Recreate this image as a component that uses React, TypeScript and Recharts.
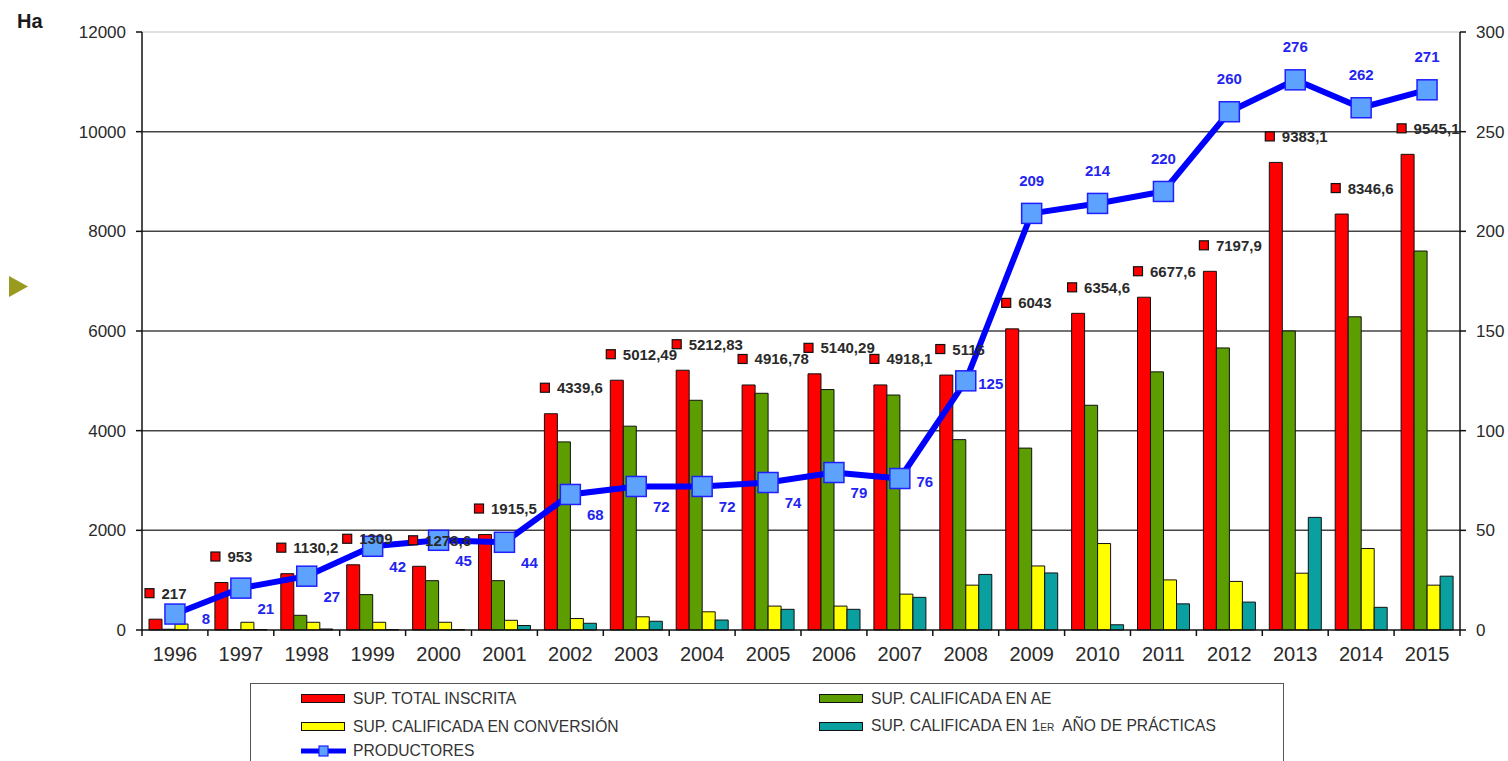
import React from 'react'
import { ComposedChart, Bar, Line, XAxis, YAxis, CartesianGrid, ReferenceLine, LabelList } from 'recharts'

const years = ['1996', '1997', '1998', '1999', '2000', '2001', '2002', '2003', '2004', '2005', '2006', '2007', '2008', '2009', '2010', '2011', '2012', '2013', '2014', '2015']
const totalInscrita = [217, 953, 1130.2, 1309, 1278.6, 1915.5, 4339.6, 5012.49, 5212.83, 4916.78, 5140.29, 4918.1, 5116, 6043, 6354.6, 6677.6, 7197.9, 9383.1, 8346.6, 9545.1]
const calificadaAE = [15, 10, 295, 710, 990, 990, 3775, 4090, 4610, 4750, 4825, 4715, 3820, 3650, 4510, 5180, 5660, 6000, 6285, 7605]
const enConversion = [120, 155, 155, 155, 155, 195, 230, 265, 365, 480, 480, 720, 900, 1285, 1735, 1005, 975, 1140, 1635, 900]
const primerAno = [0, 10, 20, 10, 10, 90, 135, 175, 200, 415, 415, 655, 1115, 1145, 105, 525, 560, 2260, 455, 1080]
const productores = [8, 21, 27, 42, 45, 44, 68, 72, 72, 74, 79, 76, 125, 209, 214, 220, 260, 276, 262, 271]

const leftTicks = [0, 2000, 4000, 6000, 8000, 10000, 12000]
const rightTicks = [0, 50, 100, 150, 200, 250, 300]

const data = years.map((year, i) => ({
  year,
  total: totalInscrita[i],
  ae: calificadaAE[i],
  conv: enConversion[i],
  primer: primerAno[i],
  prod: productores[i],
}))

const W = 1508
const H = 761
const PLOT_LEFT = 142
const PLOT_RIGHT = 1460
const PLOT_BOTTOM = 630
const BAND = (PLOT_RIGHT - PLOT_LEFT) / years.length
const FONT = '"Liberation Sans", Arial, sans-serif'

const XTick = (props: any) => {
  const { x, payload, index } = props
  return (
    <g>
      <text x={x} y={654} textAnchor="middle" dominantBaseline="central" fontSize={20} fill="#2a2a2a" fontFamily={FONT}>
        {payload.value}
      </text>
      <line x1={x - BAND / 2} x2={x - BAND / 2} y1={PLOT_BOTTOM} y2={PLOT_BOTTOM + 6} stroke="#111" strokeWidth={1.5} />
      {index === years.length - 1 && (
        <line x1={x + BAND / 2} x2={x + BAND / 2} y1={PLOT_BOTTOM} y2={PLOT_BOTTOM + 6} stroke="#111" strokeWidth={1.5} />
      )}
    </g>
  )
}

const TotalLabel = (props: any) => {
  const { x, y, width, value } = props
  const cx = x + width / 2
  const cy = y - 26
  return (
    <g>
      <rect x={cx - 10.5} y={cy - 4.5} width={9} height={9} fill="#ff0000" stroke="#111" strokeWidth={1.2} />
      <text x={cx + 6} y={cy} dominantBaseline="central" fontSize={15} fontWeight="bold" fill="#2a2a2a" fontFamily={FONT}>
        {String(value).replace('.', ',')}
      </text>
    </g>
  )
}

const ProdLabel = (props: any) => {
  const { x, y, value, index } = props
  let dx = 25
  let dy = 20
  if (index >= 13) {
    dx = 0
    dy = -33
  } else if (index >= 11) {
    dy = 3
  } else if (index === 0) {
    dx = 31
    dy = 4
  }
  return (
    <text x={x + dx} y={y + dy} textAnchor="middle" dominantBaseline="central" fontSize={15} fontWeight="bold" fill="#2424f0" fontFamily={FONT}>
      {value}
    </text>
  )
}

const SquareDot = (props: any) => {
  const { cx, cy, key } = props
  if (cx == null || cy == null) return <g key={key} />
  return <rect key={key} x={cx - 10} y={cy - 10} width={20} height={20} fill="#5ea2ff" stroke="#2020ff" strokeWidth={1.5} />
}

const legendItems = [
  { label: 'SUP. TOTAL INSCRITA', color: '#ff0000', left: 50, top: 14 },
  { label: 'SUP. CALIFICADA EN AE', color: '#5c9e00', left: 568, top: 14 },
  { label: 'SUP. CALIFICADA EN CONVERSIÓN', color: '#ffff00', left: 50, top: 42 },
  { label: 'SUP. CALIFICADA EN 1ER AÑO DE PRÁCTICAS', color: '#0aa0a0', left: 568, top: 42 },
]

const LegendText = ({ children }: { children: React.ReactNode }) => (
  <span style={{ display: 'inline-block', transform: 'scaleX(0.92)', transformOrigin: 'left center', whiteSpace: 'nowrap', fontSize: 17, color: '#333', fontFamily: FONT, lineHeight: '17px' }}>
    {children}
  </span>
)

const App: React.FC = () => {
  return (
    <div style={{ position: 'fixed', left: 0, top: 0, width: W, height: H, overflow: 'hidden', background: '#fff', fontFamily: FONT }}>
      <div style={{ position: 'absolute', left: 17, top: 10, fontSize: 20, fontWeight: 'bold', color: '#1a1a1a' }}>Ha</div>
      <svg style={{ position: 'absolute', left: 0, top: 0 }} width={40} height={320}>
        <polygon points="9,276 28,286.5 9,297" fill="#9a9a1e" />
      </svg>
      <ComposedChart width={W} height={H} data={data} margin={{ top: 32, right: 0, left: 82, bottom: 91 }} barCategoryGap={7} barGap={0}>
        <CartesianGrid yAxisId="left" vertical={false} horizontalValues={[2000, 4000, 6000, 8000, 10000]} stroke="#444" strokeWidth={1.5} />
        <ReferenceLine yAxisId="left" y={12000} stroke="#d6d6d6" strokeWidth={1.3} />
        <XAxis dataKey="year" interval={0} tickLine={false} axisLine={{ stroke: '#111', strokeWidth: 1.5 }} tick={<XTick />} height={40} />
        <YAxis
          yAxisId="left"
          domain={[0, 12000]}
          ticks={leftTicks}
          width={60}
          tickSize={6}
          tickMargin={10}
          axisLine={{ stroke: '#111', strokeWidth: 1.5 }}
          tickLine={{ stroke: '#111', strokeWidth: 1.5 }}
          tick={{ fontSize: 17, fill: '#2a2a2a', fontFamily: FONT }}
        />
        <YAxis
          yAxisId="right"
          orientation="right"
          domain={[0, 300]}
          ticks={rightTicks}
          width={48}
          tickSize={6}
          tickMargin={10}
          axisLine={{ stroke: '#111', strokeWidth: 1.5 }}
          tickLine={{ stroke: '#111', strokeWidth: 1.5 }}
          tick={{ fontSize: 17, fill: '#2a2a2a', fontFamily: FONT, textAnchor: 'start' }}
        />
        <Bar yAxisId="left" dataKey="total" fill="#ff0000" stroke="#111" strokeWidth={1} isAnimationActive={false}>
          <LabelList dataKey="total" content={<TotalLabel />} />
        </Bar>
        <Bar yAxisId="left" dataKey="ae" fill="#5c9e00" stroke="#111" strokeWidth={1} isAnimationActive={false} />
        <Bar yAxisId="left" dataKey="conv" fill="#ffff00" stroke="#111" strokeWidth={1} isAnimationActive={false} />
        <Bar yAxisId="left" dataKey="primer" fill="#0aa0a0" stroke="#111" strokeWidth={1} isAnimationActive={false} />
        <Line
          yAxisId="right"
          dataKey="prod"
          type="linear"
          stroke="#0000ff"
          strokeWidth={6}
          dot={SquareDot}
          activeDot={false}
          label={ProdLabel}
          isAnimationActive={false}
        />
      </ComposedChart>
      <div style={{ position: 'absolute', left: 250, top: 683, width: 1034, height: 100, border: '1px solid #555', boxSizing: 'border-box' }}>
        {legendItems.map((item) => (
          <div key={item.label} style={{ position: 'absolute', left: item.left, top: item.top - 8, height: 17, display: 'flex', alignItems: 'center' }}>
            <div style={{ width: 42, height: 7, background: item.color, border: '1.5px solid #111', marginRight: 8 }} />
            <LegendText>
              {item.label.startsWith('SUP. CALIFICADA EN 1ER') ? (
                <>
                  SUP. CALIFICADA EN 1<span style={{ fontSize: 11 }}>ER</span>&nbsp; AÑO DE PRÁCTICAS
                </>
              ) : (
                item.label
              )}
            </LegendText>
          </div>
        ))}
        <div style={{ position: 'absolute', left: 50, top: 66 - 8, height: 17, display: 'flex', alignItems: 'center' }}>
          <svg width={45} height={14} style={{ marginRight: 7 }}>
            <line x1={0} x2={45} y1={7} y2={7} stroke="#0000ff" strokeWidth={5} />
            <rect x={18} y={2} width={9} height={10} fill="#5ea2ff" stroke="#2020ff" strokeWidth={1.2} />
          </svg>
          <LegendText>PRODUCTORES</LegendText>
        </div>
      </div>
    </div>
  )
}

export default App
